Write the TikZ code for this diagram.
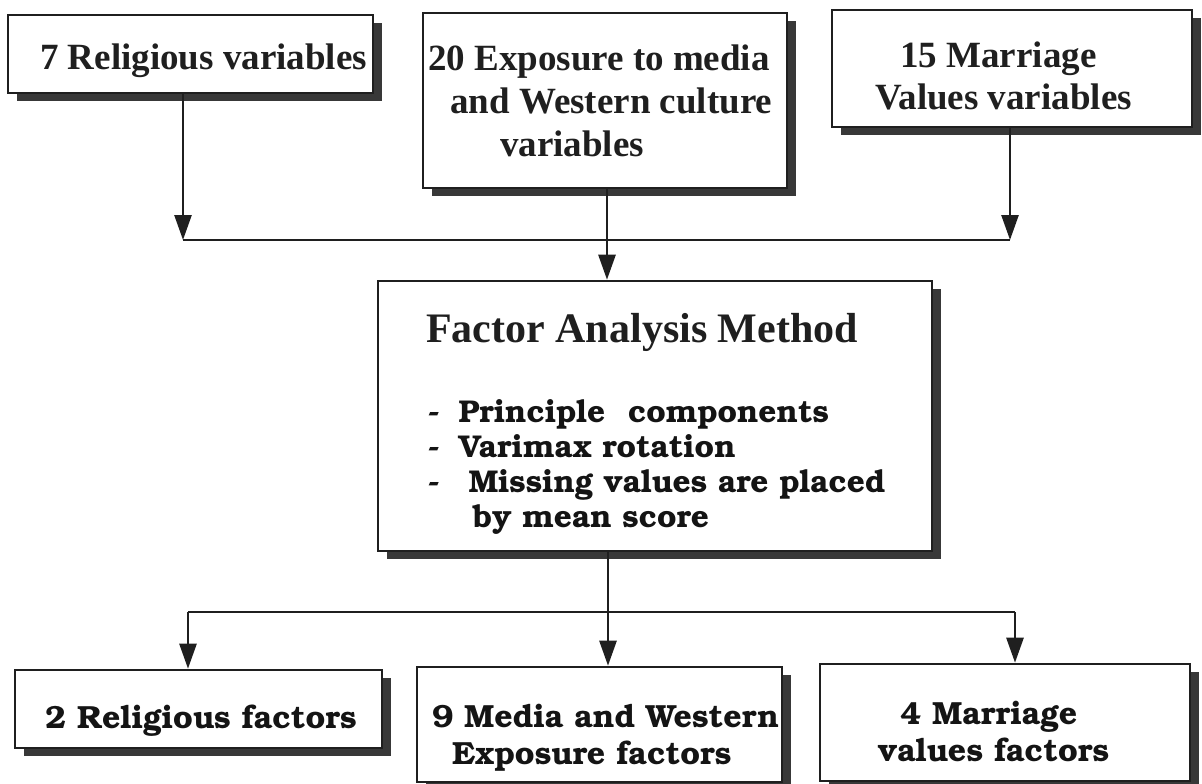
\documentclass[tikz,border=0pt]{standalone}
\usepackage[T1]{fontenc}
\usepackage{fontspec}
\setmainfont{Liberation Serif}
\usetikzlibrary{arrows.meta,shadows}
\newcommand\bkm{\fontencoding{T1}\fontfamily{pbk}\fontseries{b}\fontshape{n}\selectfont}
\tikzset{
  box/.style={draw=black!88, line width=2.6pt, fill=white, inner sep=0pt,
    drop shadow={shadow xshift=9pt, shadow yshift=-8pt, fill=black!78, opacity=1}},
  tms/.style={anchor=base west, inner sep=0pt, text=black!88, align=left,
    font=\fontsize{37}{43}\selectfont\bfseries},
  bk/.style={anchor=base west, inner sep=0pt, text=black!92, align=left,
    font=\fontsize{32}{37}\bkm},
  ln/.style={draw=black!88, line width=2.6pt},
  arr/.style={ln, -{Triangle[width=17pt,length=25pt]}}
}
\begin{document}
\begin{tikzpicture}[x=1pt,y=-1pt]
\useasboundingbox (0,0) rectangle (1202,784);
% boxes
\node[box, minimum width=365pt, minimum height=78pt] (r7) at (190.5,54) {};
\node[box, minimum width=364pt, minimum height=175pt] (e20) at (605,100.5) {};
\node[box, minimum width=360pt, minimum height=117pt] (m15) at (1012,68.5) {};
\node[box, minimum width=554pt, minimum height=270pt] (fa) at (655,416) {};
\node[box, minimum width=367pt, minimum height=78pt] (r2) at (198.5,709) {};
\node[box, minimum width=365pt, minimum height=115pt] (m9) at (599.5,724.5) {};
\node[box, minimum width=370pt, minimum height=117pt] (v4) at (1005,722.5) {};
% texts (base = baseline of the last line)
\node[tms] (r7t) at (40,70) {7 Religious variables};
\node[tms] (e20t) at (428,156) {20 Exposure to media\\\hspace*{22pt}and Western culture\\\hspace*{72pt}variables};
\node[tms] (m15t) at (900,110) {15 Marriage\\\hspace*{-25pt}Values variables};
\node[tms, font=\fontsize{42}{45}\selectfont\bfseries] (fat) at (426,342) {Factor Analysis Method};
\node[bk, font=\fontsize{31.5}{35}\bkm] (fal) at (428,527) {-\hspace*{19pt}Principle\hspace*{12pt} components\\
 -\hspace*{19pt}Varimax rotation\\
 -\hspace*{29pt}Missing values are placed\\
 \hspace*{45pt}by mean score};
\node[bk] (r2t) at (45,728) {2 Religious factors};
\node[bk] (m9t) at (432,764) {9 Media and Western\\\hspace*{20pt}Exposure factors};
\node[bk] (v4t) at (900,761) {4 Marriage\\\hspace*{-22pt}values factors};
% connectors
\coordinate (jt1) at (183,240);
\coordinate (jt3) at (1010,240);
\coordinate (jtc) at (607,240);
\coordinate (jb1) at (188,612);
\coordinate (jbc) at (608,612);
\coordinate (jb3) at (1015,612);
\draw[arr] (jt1 |- r7.south) -- (jt1);
\draw[arr] (jt3 |- m15.south) -- (jt3);
\draw[ln] (jt1) -- (jt3);
\draw[arr] (jtc |- e20.south) -- (jtc |- fa.north);
\draw[ln] (jbc |- fa.south) -- (jbc);
\draw[ln] (jb1) -- (jb3);
\draw[arr] (jb1) -- (jb1 |- r2.north);
\draw[arr] (jbc) -- (jbc |- m9.north);
\draw[arr] (jb3) -- (jb3 |- v4.north);
\end{tikzpicture}
\end{document}
